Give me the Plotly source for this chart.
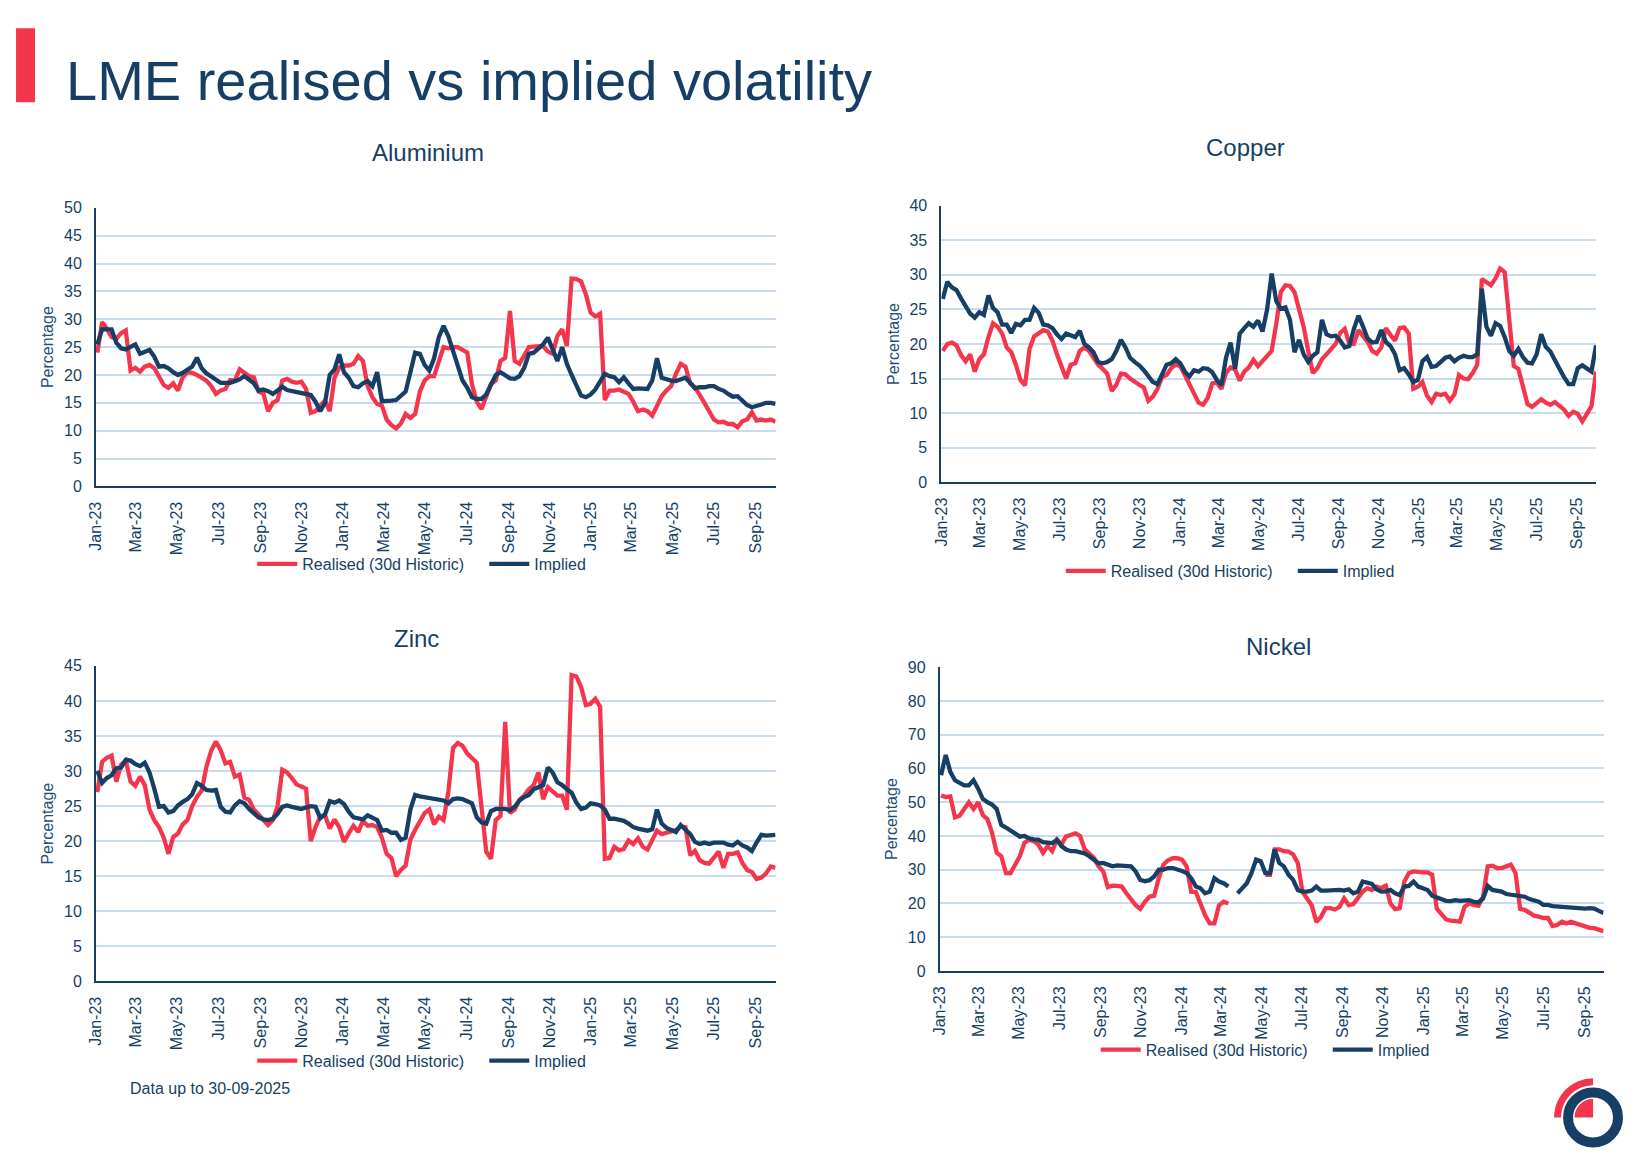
import math
import pandas as pd
import plotly.graph_objects as go

# ---------------- data (weekly readings, 2023-01-03 .. 2025-09-30) ----------------
dates = pd.date_range("2023-01-03", periods=144, freq="7D")

al_realised = [24, 29.5, 28.3, 26.8, 26.5, 27.5, 28, 20.8, 21.3, 20.6,
               21.5, 21.8, 21.2, 19.7, 18.2, 17.7, 18.5, 17.2, 19.6, 20.5,
               20.4, 20, 19.6, 19, 18, 16.6, 17.2, 17.5, 19.1, 19,
               21, 20.3, 19.8, 19.6, 17, 16.7, 13.5, 15, 15.5, 19,
               19.3, 18.8, 18.6, 18.8, 17.5, 13.2, 13.5, 14.5, 15.4, 13.5,
               19.5, 21.3, 21.7, 21.7, 22, 23.4, 22.5, 18, 16, 14.8,
               14.5, 12, 11, 10.4, 11.3, 13, 12.3, 13, 17, 19,
               19.8, 19.8,
               22.5, 25, 24.8, 25, 25, 24.5, 24, 18.3, 15.2, 13.9,
               16, 18.4, 19, 22.5, 23.1, 31.5, 22.5, 22, 23.5, 25,
               25.1, 25.1, 25.2, 24.2, 23.8, 27, 28.2, 25.2, 37.3, 37.2,
               36.8, 34.5, 31.2, 30.5, 31, 15.5, 17.2, 17.2, 17.4, 17,
               16.6, 15.2, 13.5, 13.8, 13.5, 12.7, 14.5, 16.2, 17.2, 18,
               20.2, 22, 21.5, 18.5, 17.8, 16.5, 15, 13.5, 12, 11.5,
               11.6, 11.2, 11.2, 10.6, 11.7, 12, 13.3, 11.8, 12, 11.8,
               12, 11.6]
al_implied = [25.5, 28.2, 28.2, 28.2, 25.8, 24.8, 24.6, 25, 25.5, 23.8,
              24.2, 24.5, 23.3, 21.5, 21.6, 21.2, 20.5, 20, 20.4, 20.9,
              21.5, 23.1, 21.2, 20.3, 19.8, 19.3, 18.6, 18.6, 18.6, 18.9,
              19.2, 19.8, 19.2, 18.5, 17.2, 17.4, 17.1, 16.6, 17.2, 17.9,
              17.3, 17.1, 16.9, 16.7, 16.6, 16.4, 15.2, 13.5, 15, 20,
              21, 23.7, 20.5, 19.5, 18, 17.8, 18.5, 18.9, 18, 20.5,
              15.3, 15.3, 15.4, 15.5, 16.2, 17, 20.5, 24, 23.8, 21.8,
              20.8, 23,
              26.8, 28.8, 27, 24.5, 21.5, 19, 17.7, 16, 15.7, 15.7,
              16.5, 18.4, 20, 20.5, 20, 19.4, 19.3, 19.8, 21.3, 23.8,
              24, 24.8, 25.5, 26.7, 24.5, 22.5, 25, 22, 20, 18.3,
              16.3, 16, 16.5, 17.4, 19, 20.2, 19.8, 19.6, 18.7, 19.6,
              18.5, 17.5, 17.6, 17.6, 17.5, 19, 23, 19.5, 19.2, 19,
              18.9, 19.2, 19.5, 18.6, 17.6, 17.8, 17.8, 18, 18, 17.5,
              17.2, 16.6, 16.1, 16.2, 15.3, 14.6, 14.2, 14.4, 14.7, 15,
              15, 14.8]

cu_realised = [19, 20, 20.2, 19.8, 18.4, 17.5, 18.5, 16, 17.8, 18.5,
               21, 23, 22.5, 21.5, 19.5, 18.8, 17, 14.8, 14, 19.3,
               21.1, 21.5, 22, 21.8, 20.5, 18.5, 16.8, 15, 17, 17.2,
               19, 19.5, 19, 18.1, 17, 16.4, 15.7, 13.2, 14.1, 15.7,
               15.6, 15, 14.5, 14.1, 13.7, 11.8, 12.4, 13.5, 15.2, 15.5,
               16.5, 17, 16.8, 15.5, 14, 12.8, 11.5, 11.2, 12.2, 14.3,
               14.4, 13.5, 15.8, 16.6, 16.3, 14.7, 16, 16.6, 17.7, 16.8,
               17.5, 18.2,
               19, 22.9, 27.5, 28.5, 28.4, 27.5, 25, 22.5, 19, 15.8,
               16.5, 17.8, 18.5, 19.3, 20, 21.6, 22.2, 20, 20, 22,
               21.1, 20.3, 19, 18.6, 19.5, 22.3, 21.3, 20.5, 22.3, 22.4,
               21.5, 13.5, 13.8, 14.5, 12.5, 11.6, 12.8, 12.6, 12.8, 11.8,
               12.7, 15.5, 15, 14.9, 15.8, 17, 29.4, 29, 28.5, 29.5,
               30.9, 30.4, 24, 16.8, 16.4, 14, 11.3, 10.9, 11.4, 12,
               11.5, 11.2, 11.6, 11, 10.5, 9.6, 10.2, 9.9, 8.8, 9.9,
               11, 16]
cu_implied = [26.5, 29, 28.2, 27.8, 26.6, 25.4, 24.4, 23.8, 24.6, 24.2,
              27, 25.2, 24.6, 22.8, 22.8, 21.6, 22.9, 22.7, 23.5, 23.5,
              25.2, 24.5, 22.8, 22.7, 22.3, 21.4, 20.7, 21.5, 21.3, 21,
              21.9, 20, 19.5, 18.8, 17.4, 17.2, 17.4, 17.8, 19, 20.6,
              19.5, 18, 17.4, 16.9, 16.2, 15.4, 14.5, 14.2, 15.5, 17,
              17.2, 17.8, 17.2, 16, 15.3, 16.2, 16, 16.5, 16.4, 15.9,
              14.8, 14, 18, 20.2, 16.4, 21.5, 22.3, 23, 22.5, 23.4,
              21.8, 25,
              30.2, 26.2, 25.1, 25.3, 23.5, 18.8, 20.6, 18.5, 17.4, 18.3,
              18.8, 23.5, 21.4, 21.1, 21.2, 20.5, 19.5, 19.7, 22.2, 24.1,
              22.5, 20.8, 20.2, 20.3, 22, 20.3, 19.7, 18.5, 16.2, 16.5,
              15.6, 14.5, 14.8, 17.5, 18.1, 16.7, 16.8, 17.5, 18, 18.2,
              17.5, 18, 18.3, 18.1, 18.1, 18.5, 28, 22.5, 21.2, 23,
              22.6, 21, 19, 18.3, 19.3, 18.1, 17.3, 17.2, 18.5, 21.4,
              19.6, 18.9, 17.8, 16.4, 15.2, 14.2, 14.2, 16.5, 16.9, 16.4,
              16, 19.8]

zn_realised = [27, 31.3, 31.9, 32.2, 28.5, 30.9, 31.5, 28.5, 27.9, 29.2,
               28, 24.5, 23, 22, 20.5, 18.2, 20.6, 21.1, 22.4, 23,
               25, 26.3, 27.2, 30.6, 32.9, 34.2, 33, 31.1, 31.3, 29.2,
               29.5, 26.2, 25.9, 24.5, 23.8, 23, 22.3, 23, 25, 30.2,
               29.8, 29, 28.1, 27.8, 27.5, 20, 22, 23.5, 23.7, 21.8,
               23.1, 22, 19.9, 21.1, 22.2, 21.3, 22.9, 22.2, 22.3, 22,
               20.5, 18.2, 17.6, 15, 15.9, 16.5, 20.2, 21.6, 22.9, 24,
               24.5, 22.4,
               23.5, 23, 27, 33.3, 34, 33.6, 32.5, 31.8, 31.2, 24.9,
               18.5, 17.5, 23, 23.6, 37, 24, 24.5, 25.9, 26.5, 27.4,
               28, 29.8, 26, 27.7, 27, 26.5, 26.5, 24.5, 43.7, 43.5,
               42, 39.4, 39.6, 40.3, 39.2, 17.5, 17.6, 19.2, 18.7, 18.9,
               20.1, 19.6, 20.4, 19.2, 18.8, 20, 21.5, 21, 21.2, 21.4,
               21.6, 22.1, 22, 18, 18.6, 17.3, 16.9, 16.8, 17.6, 18.5,
               16.2, 18.2, 18.2, 18.4, 16.9, 15.9, 15.6, 14.6, 14.8, 15.4,
               16.4, 16.2]
zn_implied = [30, 28.3, 29, 29.4, 30.4, 30.5, 31.6, 31.5, 31, 30.7,
              31.2, 29.8, 27.5, 24.9, 25, 24.1, 24.3, 25.1, 25.6, 26,
              26.7, 28.3, 27.9, 27.3, 27.2, 27.3, 24.9, 24.2, 24.1, 25.1,
              25.7, 25.4, 24.6, 23.9, 23.4, 23.1, 23, 23.2, 23.9, 24.9,
              25.1, 24.9, 24.8, 24.6, 24.8, 25, 24.9, 23.3, 23.8, 25.7,
              25.5, 25.8, 25.3, 24.2, 23.4, 23.2, 23.1, 23.7, 23.4, 23,
              21.5, 21.6, 21.2, 21.2, 20.2, 20.5, 24.5, 26.6, 26.4, 26.3,
              26.1, 26,
              25.9, 25.8, 25.4, 26, 26.1, 26, 25.7, 25.4, 23.4, 22.7,
              22.5, 24.3, 24.6, 24.6, 24.6, 24.4, 24.9, 25.8, 26.3, 26.6,
              27.4, 27.7, 28, 30.5, 29.8, 28.4, 28, 27.4, 26.9, 25.5,
              24.6, 24.8, 25.4, 25.3, 25.1, 24.5, 23.2, 23.2, 23, 22.9,
              22.5, 22, 21.8, 21.7, 21.5, 21.7, 24.5, 22.5, 21.9, 21.6,
              21.3, 22.3, 21.6, 21, 19.9, 19.6, 19.8, 19.6, 19.8, 19.8,
              19.8, 19.5, 19.4, 19.9, 19.4, 19.1, 18.6, 19.8, 20.9, 20.8,
              20.9, 20.9]

ni_realised = [52, 51.5, 51.7, 45.5, 46, 48, 50, 48, 50, 46.2,
               45, 41, 35, 34, 29, 29, 31.5, 34, 38, 38.8,
               38.5, 37.5, 35, 37, 35.5, 38.9, 37.5, 39.9, 40.3, 40.8,
               40, 36, 34.8, 33.5, 31, 29.5, 24.8, 25.3, 25.2, 25,
               23, 21, 19.5, 18.4, 20.5, 22, 22.3, 27.5, 31.5, 32.8,
               33.4, 33.4, 33, 31, 23.5, 23.4, 19.6, 16.5, 14.1, 14.1,
               19.5, 20.5, 20, None, None, None, None, None, None, None,
               28.5, 28.5, 36, 36, 35.5, 35.4, 34.5, 32, 23.5, 21.6,
               19.5, 14.5, 16, 18.6, 18.6, 18.2, 19, 21.5, 19.5, 19.8,
               21.5, 23.5, 24.5, 24, 25, 24.6, 25.3, 20, 18.3, 18.6,
               26.5, 29, 29.5, 29.2, 29.2, 29.2, 28.5, 18.5, 17, 15.3,
               14.9, 14.7, 14.6, 19, 20, 19.6, 19.3, 22, 31, 31.2,
               30.5, 30.5, 31, 31.5, 29, 18.4, 18.1, 17.3, 16.4, 16.1,
               15.7, 15.7, 13.3, 13.6, 14.6, 14.1, 14.6, 14.1, 13.6, 13.2,
               12.8, 12.7, 12.3, 11.8]
ni_implied = [58, 64, 59, 56.5, 55.7, 55, 55, 56.5, 54, 51,
              50, 49.3, 48, 43.3, 42.5, 41.5, 40.5, 39.8, 40, 39.3,
              39, 38.9, 38.2, 37.9, 37.9, 38.8, 37, 36, 35.5, 35.5,
              35.2, 34.8, 34, 33, 31.9, 32, 31.5, 31, 31.3, 31.3,
              31.2, 31, 29.5, 27, 26.6, 26.9, 28, 30, 30, 30.5,
              30.5, 30.2, 29.6, 29, 27.5, 25, 24.5, 23, 23.5, 27.5,
              26.5, 26, 25, None, 23, 24.5, 26, 29, 33, 32.5,
              29, 29, 36, 32, 31, 28.5, 27, 24, 23.5, 23.5,
              23.8, 25, 23.8, 23.8, 23.9, 23.8, 24, 23.8, 24.2, 23,
              23.5, 26.5, 26.3, 25.8, 24.2, 23.5, 23.6, 24, 23, 22.5,
              25, 25.2, 26.5, 25, 24.5, 24, 22.3, 21.8, 21, 20.8,
              20.7, 21, 20.8, 20.8, 21, 20.5, 20.3, 21.5, 25.2, 24,
              23.8, 23.5, 22.8, 22.6, 22.4, 22.4, 22, 21.3, 20.9, 20.5,
              19.6, 19.6, 19.2, 19.1, 18.8, 18.8, 18.7, 18.6, 18.6, 18.5,
              18.6, 18.5, 17.8, 17.2]

chart_titles = ["Aluminium", "Copper", "Zinc", "Nickel"]
series_names = ["Realised (30d Historic)", "Implied"]
y_max = [50, 40, 45, 90]
y_step = [5, 5, 5, 10]
tick_months = pd.date_range("2023-01-01", "2025-09-01", freq="2MS")

# ---------------- styling ----------------
REF_W, REF_H = 1652, 1168     # reference picture size (target coordinates)
OFF = 8                       # page body margin
CAP_W, CAP_H = 1660, 1187     # page area that ends up in the screenshot
W, H = 1652, 1179             # figure size
SX, SY = CAP_W / REF_W, CAP_H / REF_H
RED = "#F4364C"
NAVY = "#173F66"
GRID = "#C8DCF0"
FONT = "Liberation Sans, Arial, sans-serif"


def px(x):
    return (x * SX - OFF) / W


def py(y):
    return 1 - (y * SY - OFF) / H


# plot areas in reference pixels: (left, right, top, bottom)
areas = [(95, 775, 207.4, 485.5),
         (941, 1596, 205.3, 481.3),
         (95, 775, 664.7, 979.7),
         (939.3, 1603.5, 666, 969.3)]
title_pos = [(427, 152), (1245, 147.5), (416, 637), (1278, 645)]
legend_pos = [(421, 563), (1230, 570), (421, 1059), (1265, 1048)]

data = [(al_realised, al_implied), (cu_realised, cu_implied),
        (zn_realised, zn_implied), (ni_realised, ni_implied)]

fig = go.Figure()
layout = dict(width=W, height=H, margin=dict(l=0, r=0, t=0, b=0),
              paper_bgcolor="white", plot_bgcolor="white",
              font=dict(family=FONT, color=NAVY), showlegend=True,
              annotations=[], shapes=[])

for i in range(4):
    sfx = "" if i == 0 else str(i + 1)
    leg = "legend" if i == 0 else "legend" + str(i + 1)
    real, impl = data[i]
    fig.add_trace(go.Scatter(x=dates, y=real, mode="lines", name=series_names[0],
                             line=dict(color=RED, width=4.3), legendwidth=177,
                             xaxis="x" + sfx, yaxis="y" + sfx, legend=leg))
    fig.add_trace(go.Scatter(x=dates, y=impl, mode="lines", name=series_names[1],
                             line=dict(color=NAVY, width=4.3),
                             xaxis="x" + sfx, yaxis="y" + sfx, legend=leg))
    l, r, t, b = areas[i]
    layout["xaxis" + sfx] = dict(
        domain=[px(l), px(r)], anchor="y" + sfx, type="date",
        range=["2023-01-01", "2025-09-30"], tickvals=list(tick_months),
        tickformat="%b-%y", tickangle=-90, showgrid=False, zeroline=False,
        showline=True, linecolor=NAVY, linewidth=2,
        ticks="outside", ticklen=7, tickcolor="rgba(0,0,0,0)",
        tickfont=dict(size=16, color=NAVY, family=FONT))
    layout["yaxis" + sfx] = dict(
        domain=[py(b), py(t)], anchor="x" + sfx, range=[0, y_max[i]],
        dtick=y_step[i], tick0=0, showgrid=True, gridcolor=GRID, gridwidth=2,
        zeroline=False, showline=True, linecolor=NAVY, linewidth=2,
        ticks="outside", ticklen=9, tickcolor="rgba(0,0,0,0)",
        tickfont=dict(size=16, color=NAVY, family=FONT),
        title=dict(text="Percentage", font=dict(size=16, color="#1F4E79", family=FONT),
                   standoff=6))
    lx, ly = legend_pos[i]
    layout[leg] = dict(orientation="h", x=px(lx), y=py(ly), xanchor="center",
                       yanchor="middle", bgcolor="rgba(0,0,0,0)",
                       font=dict(size=16, color=NAVY, family=FONT),
                       itemwidth=40, tracegroupgap=0)
    tx, ty = title_pos[i]
    layout["annotations"].append(dict(
        text=chart_titles[i], x=px(tx), y=py(ty), xref="paper", yref="paper",
        xanchor="center", yanchor="middle", showarrow=False,
        font=dict(size=24, color=NAVY, family=FONT)))

# main title and footnote
layout["annotations"].append(dict(
    text="LME realised vs implied volatility", x=px(63), y=py(80),
    xref="paper", yref="paper", xanchor="left", yanchor="middle",
    showarrow=False, font=dict(size=56, color=NAVY, family=FONT)))
layout["annotations"].append(dict(
    text="Data up to 30-09-2025", x=px(127), y=py(1087),
    xref="paper", yref="paper", xanchor="left", yanchor="middle",
    showarrow=False, font=dict(size=16, color=NAVY, family=FONT)))

# red accent bar
layout["shapes"].append(dict(type="rect", xref="paper", yref="paper",
                             x0=px(15), x1=px(34), y0=py(102), y1=py(28),
                             fillcolor=RED, line=dict(width=0)))

# logo
cx, cy = 1593, 1115.5


def arc_pts(r, a0, a1, n=24):
    pts = []
    for j in range(n + 1):
        a = math.radians(a0 + (a1 - a0) * j / n)
        pts.append((cx + r * math.cos(a), cy - r * math.sin(a)))
    return pts


def path_from(pts):
    return "M " + " L ".join(f"{px(x):.5f},{py(y):.5f}" for x, y in pts) + " Z"


band = arc_pts(39, 90, 180) + arc_pts(32, 180, 90)
layout["shapes"].append(dict(type="path", xref="paper", yref="paper",
                             path=path_from(band), fillcolor=RED, line=dict(width=0)))
pie = [(cx, cy)] + arc_pts(18.5, 90, 180)
layout["shapes"].append(dict(type="path", xref="paper", yref="paper",
                             path=path_from(pie), fillcolor=RED, line=dict(width=0)))
layout["shapes"].append(dict(type="circle", xref="paper", yref="paper",
                             x0=px(cx - 25), x1=px(cx + 25), y0=py(cy + 25), y1=py(cy - 25),
                             line=dict(color=NAVY, width=10), fillcolor="rgba(0,0,0,0)"))

fig.update_layout(**layout)
fig.write_html("out.html", config={"displayModeBar": False})
